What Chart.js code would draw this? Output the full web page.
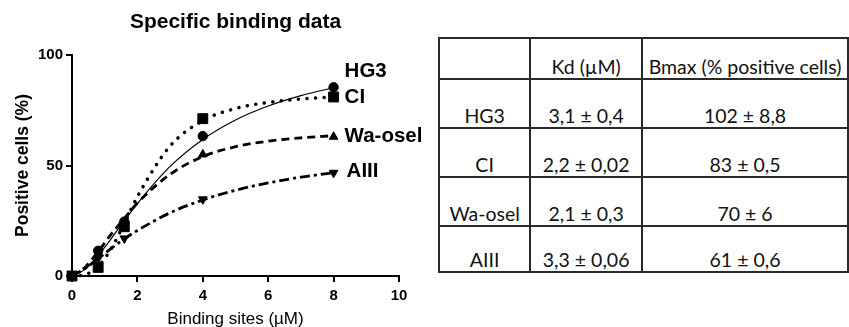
<!DOCTYPE html>
<html>
<head>
<meta charset="utf-8">
<script src="https://cdn.jsdelivr.net/npm/chart.js@4.4.1/dist/chart.umd.min.js"></script>
<style>
    body { margin: 0; background: #fff; width: 849px; height: 327px; position: relative; overflow: hidden; }
    #chartBox { position: absolute; left: 0; top: 0; width: 430px; height: 327px; }
    #kdTable { position: absolute; left: 438px; top: 37px; border-collapse: collapse; font-family: Lato, "Open Sans", sans-serif; font-size: 19.5px; color: #111; }
    #kdTable td { border: 2px solid #2a2a2a; text-align: center; vertical-align: bottom; padding: 0 0 1px 0; white-space: nowrap; line-height: 1.1; }
    #kdTable tr { height: 49px; }
    #kdTable tr:first-child { height: 41px; }
    #kdTable tr:last-child { height: 46px; }
</style>
</head>
<body>
<div id="chartBox"><canvas id="binding" width="430" height="327"></canvas></div>
<table id="kdTable"></table>

<script>
    // measured points
    const doses = [0, 0.8, 1.6, 4, 8];
    const hg3 = [0, 11.4, 24.6, 63.3, 85.4];
    const ci = [0, 3.9, 22.3, 71.2, 81];
    const waOsel = [0, 10, 24, 55, 63];
    const aiii = [0, 8, 17, 34.7, 46.7];

    // fitted curves
    const fitX = [0, 0.4, 0.8, 1.2, 1.6, 2, 3, 4, 5, 6, 7, 8];
    const hg3Fit = [0, 3.0, 9.3, 16.9, 25.0, 32.8, 49.6, 61.8, 70.6, 76.9, 81.6, 85.2];
    const ciFit = [0, 0.6, 4.4, 12.4, 23.8, 35.9, 58.8, 70.3, 75.8, 78.5, 80.1, 81.0];
    const waOselFit = [0, 4, 11, 19, 26, 33, 46, 54, 58.5, 61, 62.5, 63.5];
    const aiiiFit = [0, 3.4, 7.9, 12.5, 16.8, 20.6, 28.6, 34.4, 38.8, 42.1, 44.7, 46.7];

    const seriesNames = ['HG3', 'CI', 'Wa-osel', 'AIII'];
    const xTicks = [0, 2, 4, 6, 8, 10];
    const yTicks = [0, 50, 100];

    // table
    const tableHead = ['', 'Kd (\u00b5M)', 'Bmax (% positive cells)'];
    const kdValues = ['3,1 \u00b1 0,4', '2,2 \u00b1 0,02', '2,1 \u00b1 0,3', '3,3 \u00b1 0,06'];
    const bmaxValues = ['102 \u00b1 8,8', '83 \u00b1 0,5', '70 \u00b1 6', '61 \u00b1 0,6'];

    const table = document.getElementById('kdTable');
    const colWidths = [91, 112, 205];
    function addRow(cells) {
        const tr = document.createElement('tr');
        for (var i = 0; i < cells.length; i++) {
            const td = document.createElement('td');
            td.textContent = cells[i];
            td.style.width = colWidths[i] + 'px';
            tr.appendChild(td);
        }
        table.appendChild(tr);
    }
    addRow(tableHead);
    for (var i = 0; i < seriesNames.length; i++) {
        addRow([seriesNames[i], kdValues[i], bmaxValues[i]]);
    }

    function pts(xs, ys) {
        const out = [];
        for (var i = 0; i < xs.length; i++) out.push({ x: xs[i], y: ys[i] });
        return out;
    }

    const fitStyle = {
        showLine: true,
        pointRadius: 0,
        borderColor: '#000',
        cubicInterpolationMode: 'monotone',
        clip: false
    };
    const markStyle = {
        showLine: false,
        borderColor: '#000',
        backgroundColor: '#000',
        borderWidth: 1,
        clip: false
    };

    Chart.defaults.font.family = '"Liberation Sans", Arial, sans-serif';
    Chart.defaults.color = '#000';

    const labelsPlugin = {
        id: 'labelsPlugin',
        afterDatasetsDraw(chart) {
            const ctx = chart.ctx;
            const area = chart.chartArea;
            const xs = chart.scales.x;
            const ys = chart.scales.y;
            ctx.save();
            ctx.fillStyle = '#000';
            ctx.textBaseline = 'middle';
            ctx.textAlign = 'center';
            ctx.font = 'bold 21px "Liberation Sans", Arial, sans-serif';
            ctx.fillText('Specific binding data', (area.left + area.right) / 2, 22);

            const lastVals = [hg3, ci, waOsel, aiii];
            const dy = [-16, 0, 0, -1];
            const dx = [11, 11, 11, 13];
            ctx.textAlign = 'left';
            ctx.font = 'bold 20.5px "Liberation Sans", Arial, sans-serif';
            for (var i = 0; i < seriesNames.length; i++) {
                const v = lastVals[i][lastVals[i].length - 1];
                const px = xs.getPixelForValue(doses[doses.length - 1]) + dx[i];
                const py = ys.getPixelForValue(v) + dy[i];
                ctx.fillText(seriesNames[i], px, py);
            }
            ctx.restore();
        }
    };

    new Chart(document.getElementById('binding'), {
        type: 'scatter',
        data: {
            datasets: [
                Object.assign({ label: 'HG3 fit', data: pts(fitX, hg3Fit), borderWidth: 1.2 }, fitStyle),
                Object.assign({ label: 'CI fit', data: pts(fitX, ciFit), borderWidth: 3.5, borderDash: [0.1, 8.5], borderCapStyle: 'round' }, fitStyle),
                Object.assign({ label: 'Wa-osel fit', data: pts(fitX, waOselFit), borderWidth: 2.8, borderDash: [8, 5] }, fitStyle),
                Object.assign({ label: 'AIII fit', data: pts(fitX, aiiiFit), borderWidth: 2.8, borderDash: [10, 4, 3, 4] }, fitStyle),
                Object.assign({ label: 'HG3', data: pts(doses, hg3), pointStyle: 'circle', pointRadius: 4.7 }, markStyle),
                Object.assign({ label: 'CI', data: pts(doses, ci), pointStyle: 'rect', pointRadius: 7 }, markStyle),
                Object.assign({ label: 'Wa-osel', data: pts(doses, waOsel), pointStyle: 'triangle', pointRadius: 5 }, markStyle),
                Object.assign({ label: 'AIII', data: pts(doses, aiii), pointStyle: 'triangle', pointRotation: 180, pointRadius: 5 }, markStyle)
            ]
        },
        options: {
            responsive: false,
            animation: false,
            layout: { padding: { top: 55, right: 31, left: 0, bottom: 0 } },
            plugins: {
                legend: { display: false },
                tooltip: { enabled: false }
            },
            scales: {
                x: {
                    type: 'linear',
                    min: 0,
                    max: 10,
                    afterBuildTicks: function (scale) {
                        scale.ticks = xTicks.map(function (v) { return { value: v }; });
                    },
                    afterFit: function (scale) { scale.height = 51; },
                    ticks: { font: { size: 15, weight: 'bold' }, padding: 5, maxRotation: 0 },
                    grid: { drawOnChartArea: false, drawTicks: true, tickLength: 6, color: '#000', lineWidth: 2 },
                    border: { color: '#000', width: 2 },
                    title: {
                        display: true,
                        text: 'Binding sites (\u00b5M)',
                        font: { size: 17, lineHeight: 1 },
                        padding: { top: 0, bottom: -1 }
                    }
                },
                y: {
                    type: 'linear',
                    min: 0,
                    max: 100,
                    afterBuildTicks: function (scale) {
                        scale.ticks = yTicks.map(function (v) { return { value: v }; });
                    },
                    afterFit: function (scale) { scale.width = 72; },
                    ticks: { font: { size: 15, weight: 'bold' }, padding: 3 },
                    grid: { drawOnChartArea: false, drawTicks: true, tickLength: 6, color: '#000', lineWidth: 2 },
                    border: { color: '#000', width: 2 },
                    title: {
                        display: true,
                        text: 'Positive cells (%)',
                        font: { size: 17.5, weight: 'bold', lineHeight: 1 },
                        padding: { top: 14, bottom: 0 }
                    }
                }
            }
        },
        plugins: [labelsPlugin]
    });
</script>
</body>
</html>
